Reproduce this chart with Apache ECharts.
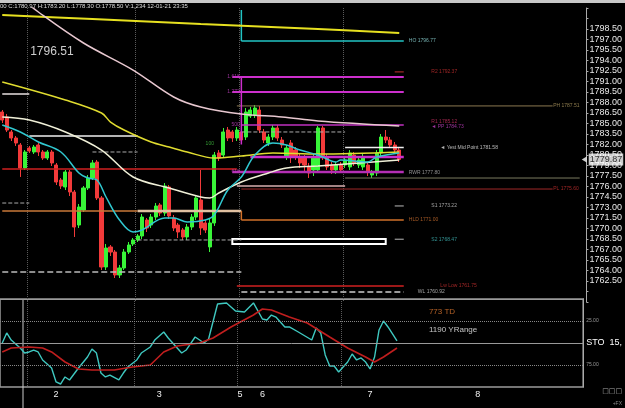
<!DOCTYPE html>
<html><head><meta charset="utf-8">
<script src="https://cdn.jsdelivr.net/npm/echarts@6/dist/echarts.min.js"></script>
<style>html,body{margin:0;padding:0;background:#000}#c{width:625px;height:408px}</style>
</head><body><div id="c"></div>
<script>
// ---------- DATA ----------
const N_CAT = 130;
const dayLabels = ['2','3','5','6','7','8'];
const dayLabelIdx = [12,35,53,58,82,106];
const dayBreaks = [6,30,53,76];

const opens = [1786.64,1785.93,1783.79,1782.93,1781.93,1778.64,1781.50,1780.93,1781.93,1780.93,
1780.07,1780.93,1779.07,1776.93,1775.93,1778.07,1775.21,1770.50,1772.64,1775.79,
1777.21,1779.50,1774.36,1764.50,1767.36,1766.64,1763.36,1764.36,1766.64,1767.79,
1768.36,1768.93,1771.21,1770.50,1771.64,1773.36,1772.21,1775.93,1771.50,1770.50,
1769.79,1768.79,1770.21,1771.64,1774.07,1770.79,1767.36,1770.79,1780.79,1780.50,
1784.07,1783.79,1782.93,1783.79,1783.07,1786.07,1786.21,1786.93,1783.79,1782.21,
1783.07,1784.36,1782.64,1780.21,1782.21,1781.21,1780.21,1780.07,1778.79,1778.36,
1778.36,1784.36,1780.21,1779.07,1778.36,1779.07,1779.07,1778.79,1780.50,1779.07,
1778.79,1779.07,1777.64,1777.93,1780.79,1783.07,1782.64,1781.93,1781.21];
const closes = [1785.50,1784.07,1782.93,1782.21,1778.64,1780.93,1781.07,1781.64,1780.93,1780.07,
1780.93,1779.36,1776.64,1776.07,1778.07,1775.21,1770.21,1773.07,1775.79,1777.21,
1779.36,1774.36,1764.50,1767.21,1766.64,1763.36,1764.36,1766.64,1767.64,1768.36,
1768.93,1771.64,1770.07,1771.64,1773.21,1772.21,1776.07,1771.79,1770.07,1769.50,
1768.79,1770.21,1771.64,1774.36,1770.07,1769.79,1770.79,1780.50,1780.07,1783.79,
1782.93,1782.93,1784.07,1782.64,1786.64,1786.93,1787.21,1784.07,1782.64,1783.07,
1784.36,1782.93,1781.93,1781.50,1780.21,1780.21,1779.36,1779.07,1777.93,1780.21,
1784.36,1780.21,1778.79,1778.36,1779.07,1778.36,1779.79,1780.79,1779.36,1779.79,
1780.21,1778.07,1778.07,1780.79,1783.07,1782.64,1781.93,1781.21,1779.87];
const lows = [1785.07,1783.79,1782.50,1781.79,1777.36,1778.36,1780.79,1780.64,1780.36,1779.79,
1779.79,1778.93,1776.21,1775.64,1775.50,1774.64,1768.79,1770.07,1772.36,1775.50,
1776.93,1774.07,1764.07,1764.07,1766.07,1762.93,1762.93,1764.07,1766.36,1767.50,
1768.07,1768.50,1769.50,1770.07,1771.21,1771.79,1771.79,1771.36,1769.64,1768.64,
1768.36,1768.36,1769.79,1771.21,1769.07,1769.36,1766.64,1770.36,1779.64,1780.07,
1782.50,1782.36,1782.50,1782.21,1782.64,1785.79,1785.79,1783.64,1782.21,1781.79,
1782.64,1782.50,1781.50,1779.79,1779.36,1779.79,1778.64,1778.07,1777.21,1777.50,
1777.93,1779.79,1778.36,1777.79,1777.79,1777.93,1778.64,1778.36,1778.93,1778.64,
1778.36,1777.50,1777.21,1777.50,1780.36,1782.21,1781.50,1780.79,1779.50];
const highs = [1786.93,1786.36,1784.07,1783.21,1782.21,1781.21,1781.79,1781.93,1782.21,1781.21,
1781.21,1781.21,1779.36,1777.21,1778.36,1778.36,1775.50,1773.50,1776.07,1777.64,
1779.79,1779.79,1774.64,1767.79,1767.64,1766.93,1764.79,1767.07,1768.07,1768.64,
1769.21,1772.07,1771.50,1772.07,1773.64,1773.64,1776.50,1776.21,1771.93,1770.79,
1770.07,1770.64,1772.07,1774.64,1778.36,1771.21,1771.50,1780.93,1781.21,1784.36,
1784.50,1784.07,1784.50,1784.21,1787.21,1787.36,1787.64,1787.50,1784.21,1783.50,
1784.79,1784.79,1783.07,1781.93,1782.64,1781.64,1780.64,1780.50,1779.36,1780.64,
1784.64,1784.64,1780.64,1779.50,1779.50,1779.50,1780.21,1781.21,1780.93,1780.21,
1780.64,1779.50,1778.36,1781.21,1783.50,1784.07,1783.07,1782.36,1781.64];

// moving averages [index, price]
const maTop = [[0,1800.50],[20,1799.93],[44,1799.21],[70,1798.50],[88,1797.93]];
const maPink = [[4,1803.0],[8,1800.93],[18,1796.50],[29,1792.64],[38,1788.79],[44,1787.36],[53,1786.36],[62,1785.93],[70,1785.36],[88,1784.64]];
const maYellow = [[0,1790.93],[14,1788.36],[22,1786.50],[24,1785.21],[27,1784.07],[33,1782.36],[37,1781.64],[41,1780.93],[47,1780.07],[53,1780.36],[60,1780.79],[70,1780.64],[88,1780.93]];
const maCream = [[0,1785.93],[6,1785.50],[14,1783.79],[22,1781.21],[29,1777.36],[37,1775.79],[44,1774.50],[46,1774.36],[48,1775.07],[53,1776.64],[59,1777.93],[63,1778.64],[70,1778.93],[88,1779.79]];
const maCyan = [[0,1784.79],[4,1783.79],[8,1782.36],[13,1780.93],[17,1777.93],[19,1777.21],[21,1776.93],[23,1774.50],[26,1771.21],[29,1769.50],[31,1769.79],[36,1771.50],[38,1771.50],[41,1770.93],[45,1771.21],[47,1771.93],[50,1775.50],[53,1777.36],[56,1780.50],[60,1782.21],[63,1781.93],[66,1781.21],[70,1780.50],[74,1779.50],[75,1779.79],[81,1779.50],[83,1780.21],[88,1780.79]];

// stochastic [index, value]
const stochK = [[0,50.0],[1,38.6],[2,46.6],[4,55.7],[5,61.4],[6,60.2],[7,58.0],[8,60.2],[9,69.3],[11,78.4],[12,94.3],[13,96.6],[14,88.6],[15,92.0],[17,78.4],[19,65.9],[20,56.8],[21,61.4],[22,84.1],[23,88.6],[24,86.4],[26,92.0],[27,84.1],[28,77.3],[30,69.3],[31,61.4],[33,54.5],[34,46.6],[36,37.5],[37,44.3],[39,55.7],[40,61.4],[41,58.0],[43,43.2],[44,46.6],[45,50.0],[46,45.5],[48,5.7],[50,4.5],[52,13.6],[54,14.8],[56,4.5],[58,22.7],[59,23.9],[60,18.2],[61,20.5],[63,31.8],[64,31.8],[66,37.5],[69,46.6],[70,33.0],[71,38.6],[72,63.6],[73,76.1],[74,76.1],[75,83.0],[77,71.6],[78,62.5],[79,69.3],[80,67.0],[81,71.6],[82,79.5],[83,65.9],[84,35.2],[85,25.0],[86,31.8],[88,47.7]];
const stochD = [[0,60.2],[2,55.7],[6,54.5],[9,55.7],[11,60.2],[14,71.6],[17,79.5],[20,80.7],[25,80.7],[29,77.3],[33,75.0],[36,60.2],[39,53.4],[44,50.0],[47,44.3],[51,31.8],[56,18.2],[58,11.4],[60,12.5],[64,20.5],[68,27.3],[73,43.2],[77,55.7],[81,65.9],[83,71.6],[85,65.9],[88,55.7]];

// horizontal levels
const levelPrice = [1796.77,1791.64,1789.50,1787.51,1784.79,1780.21,1778.07,1781.58,1777.21,1775.64,1776.07,1778.50,1772.50,1772.50,1771.21,1761.79,1760.93,1789.21,1783.21,1773.64,1780.93,1768.36,1763.79,1783.79,1792.37,1773.22,1768.47];
const levelFrom  = [53,51,51,52,53,55,51,76,76,53,52,0,0,30,53,52,53,0,6,0,20,30,0,53,87,87,87];
const levelTo    = [89,89,89,122,89,89,89,89,128,122,76,52,30,53,89,89,89,6,30,6,30,53,53,76,89,89,89];

// vertical segments
const vertIdx = [53,53,53];
const vertFrom = [1796.77,1791.64,1772.50];
const vertTo = [1801.21,1782.00,1771.21];

// level labels
const labelText = ['HO 1796.77','R2 1792.37','PH 1787.51','R1 1785.12','\u25C4 PP 1784.73','\u25C4 Yest Mid Point 1781.58','RWR 1777.80','PL 1775.60','S1 1773.22','HLD 1771.00','S2 1768.47','Lw Low 1761.75','WL 1760.92'];
const labelIdx = [90,95,122,95,95,97,90,122,95,90,95,97,92];
const labelPrice = [1796.77,1792.37,1787.51,1785.30,1784.62,1781.58,1777.95,1775.64,1773.22,1771.21,1768.47,1761.79,1760.92];

const fibText = ['1.618','1.272','500','618'];
const fibPrice = [1791.64,1789.50,1784.79,1778.07];

const boxFrom = 51, boxTo = 85, boxTop = 1768.50, boxBottom = 1767.79;
const lastPrice = 1779.87;
const bigPrice = '1796.51';
const stoInfo = ['773 TD','1190 YRange'];
const stoInfoValue = [14.5, 35.5];

// ---------- BUILD ----------
const categories = [];
for (let i = 0; i < N_CAT; i++) {
  const k = dayLabelIdx.indexOf(i);
  categories.push(k >= 0 ? dayLabels[k] : '');
}
const candles = opens.map((o, i) => [o, closes[i], lows[i], highs[i]]);

const FONT = 'Liberation Sans, Arial, sans-serif';
const magenta = '#cc2fcc';
const levelStyle = [
  {color:'#22c4c4', width:1.5},
  {color:magenta, width:2},
  {color:magenta, width:2},
  {color:'#8c7850', width:1},
  {color:'#c030c0', width:1.5},
  {color:magenta, width:2.5},
  {color:'#b52fb5', width:2.5},
  {color:'#f0f0f0', width:1.5},
  {color:'#7a7a60', width:1},
  {color:'#a02828', width:1},
  {color:'#d8b0b0', width:1.5},
  {color:'#d02020', width:1.5},
  {color:'#c87838', width:1.5},
  {color:'#e0c0a0', width:2.5},
  {color:'#d0702a', width:1.5},
  {color:'#d02020', width:1.5},
  {color:'#cccccc', width:1.5, type:'dashed'},
  {color:'#e8e0e0', width:1.5},
  {color:'#f0f0f0', width:1.5},
  {color:'#aaaaaa', width:1, type:'dashed'},
  {color:'#aaaaaa', width:1, type:'dashed'},
  {color:'#aaaaaa', width:1, type:'dashed'},
  {color:'#bbbbbb', width:1.5, type:'dashed'},
  {color:'#aaaaaa', width:1, type:'dashed'},
  {color:'#c03030', width:1},
  {color:'#bbbbbb', width:1},
  {color:'#bbbbbb', width:1}
];
const vertStyle = [{color:'#22c4c4', width:1.5},{color:magenta, width:1.5},{color:'#d0702a', width:1.5}];
const labelColor = ['#8fd8d8','#c83030','#b09a60','#c83060','#c040c0','#e0e0e0','#b0b0b0','#c83030','#c8c8c8','#d07030','#40b8b8','#c83030','#c8c8c8'];

const series = [];
series.push({
  type:'candlestick', xAxisIndex:0, yAxisIndex:0, data:candles, barWidth:3.6, z:2,
  itemStyle:{color:'#38f538', color0:'#f23a3a', borderColor:'#38f538', borderColor0:'#f23a3a', borderWidth:1}
});
levelPrice.forEach((p, i) => {
  series.push({type:'line', xAxisIndex:0, yAxisIndex:0, silent:true, symbol:'none', z:3,
    data:[[levelFrom[i], p],[levelTo[i], p]], lineStyle:levelStyle[i]});
});
vertIdx.forEach((x, i) => {
  series.push({type:'line', xAxisIndex:0, yAxisIndex:0, silent:true, symbol:'none', z:3,
    data:[[x, vertFrom[i]],[x, vertTo[i]]], lineStyle:vertStyle[i]});
});
const maDefs = [[maTop,'#e6e020',2],[maPink,'#e8c8d0',1.5],[maYellow,'#e0dc30',1.5],[maCream,'#f0f0d8',1.5],[maCyan,'#30c8d0',1.5]];
maDefs.forEach(d => {
  series.push({type:'line', xAxisIndex:0, yAxisIndex:0, silent:true, symbol:'none', smooth:0.35, z:4,
    data:d[0], lineStyle:{color:d[1], width:d[2]}});
});
// white box
series.push({type:'line', xAxisIndex:0, yAxisIndex:0, silent:true, symbol:'none', z:5,
  data:[[boxFrom, boxTop]], lineStyle:{opacity:0},
  markArea:{silent:true, itemStyle:{color:'#000', borderColor:'#ffffff', borderWidth:2},
    data:[[{coord:[boxFrom, boxTop]},{coord:[boxTo, boxBottom]}]]}});
// level labels
series.push({type:'scatter', xAxisIndex:0, yAxisIndex:0, silent:true, symbolSize:1, z:6,
  itemStyle:{color:'rgba(0,0,0,0)'},
  data: labelText.map((t, i) => ({value:[labelIdx[i], labelPrice[i]],
    label:{show:true, position:'right', distance:0, formatter:t, color:labelColor[i], fontSize:5, fontFamily:FONT}}))
});
// fib labels
series.push({type:'scatter', xAxisIndex:0, yAxisIndex:0, silent:true, symbolSize:1, z:6,
  itemStyle:{color:'rgba(0,0,0,0)'},
  data: fibText.map((t, i) => ({value:[53, fibPrice[i]],
    label:{show:true, position:'left', distance:1, formatter:t, color:'#c040c0', fontSize:5, fontFamily:FONT}}))
    .concat([{value:[46, 1782.07], label:{show:true, position:'inside', formatter:'100', color:'#40c040', fontSize:5, fontFamily:FONT}}])
});
// big price text
series.push({type:'scatter', xAxisIndex:0, yAxisIndex:0, silent:true, symbolSize:1, z:6,
  itemStyle:{color:'rgba(0,0,0,0)'},
  data:[{value:[11, 1795.21], label:{show:true, position:'inside', formatter:bigPrice, color:'#ffffff', fontSize:12, fontFamily:FONT}}]
});
// last price marker
series.push({type:'scatter', xAxisIndex:0, yAxisIndex:0, silent:true, z:7,
  symbol:'triangle', symbolRotate:90, symbolSize:[6,5], itemStyle:{color:'#ffffff'},
  data:[{value:[N_CAT-1, lastPrice], label:{show:true, position:'right', distance:2, formatter:lastPrice.toFixed(2),
    color:'#000', backgroundColor:'#ffffff', fontSize:9, fontFamily:FONT, padding:[2,1,1,1]}}]
});
// stochastic
series.push({type:'line', xAxisIndex:1, yAxisIndex:1, silent:true, symbol:'none', z:4,
  data:stochK, lineStyle:{color:'#3fc8c0', width:1.4},
  markLine:{silent:true, symbol:'none', label:{show:false},
    data:[{yAxis:25, lineStyle:{color:'#888', type:'dotted', width:1}},
          {yAxis:50, lineStyle:{color:'#999', type:'solid', width:1}},
          {yAxis:75, lineStyle:{color:'#888', type:'dotted', width:1}}]}
});
series.push({type:'line', xAxisIndex:1, yAxisIndex:1, silent:true, symbol:'none', z:4,
  data:stochD, lineStyle:{color:'#c01e1e', width:1.6}});
series.push({type:'scatter', xAxisIndex:1, yAxisIndex:1, silent:true, symbolSize:1, z:6,
  itemStyle:{color:'rgba(0,0,0,0)'},
  data: stoInfo.map((t, i) => ({value:[95, stoInfoValue[i]],
    label:{show:true, position:'right', distance:0, formatter:t, color: i===0 ? '#e07830' : '#f0f0f0', fontSize:8, fontFamily:FONT}}))
});

const splitDays = {show:true, interval:(idx) => dayBreaks.indexOf(idx) >= 0, lineStyle:{color:'#5a5a5a', type:'dotted', width:1}};

const option = {
  animation:false,
  backgroundColor:'#000',
  grid:[
    {left:0, right:38, top:8, height:294},
    {left:0, right:38, top:299, height:88, show:true, borderColor:'#9a9a9a', borderWidth:1.5}
  ],
  xAxis:[
    {type:'category', gridIndex:0, data:categories, boundaryGap:true,
      axisLine:{show:false}, axisTick:{show:false}, axisLabel:{show:false}, splitLine:splitDays},
    {type:'category', gridIndex:1, data:categories, boundaryGap:true,
      axisLine:{show:true, lineStyle:{color:'#9a9a9a'}}, axisTick:{show:false},
      axisLabel:{show:true, interval:(i, v) => v !== '', color:'#f0f0f0', fontSize:9, fontFamily:FONT, margin:3},
      splitLine:splitDays}
  ],
  yAxis:[
    {type:'value', gridIndex:0, position:'right', min:1759.5, max:1801.5, interval:1.5, scale:true,
      axisLine:{show:true, lineStyle:{color:'#aaa'}}, axisTick:{show:true, length:2, lineStyle:{color:'#aaa'}},
      splitLine:{show:false},
      axisLabel:{color:'#e8e8e8', fontSize:9, fontFamily:FONT, margin:3,
        formatter:(v) => (v >= 1762.4 && v <= 1798.6) ? v.toFixed(2) : ''}},
    {type:'value', gridIndex:1, position:'right', min:0, max:100, interval:25, inverse:true,
      axisLine:{show:true, lineStyle:{color:'#aaa'}}, axisTick:{show:false}, splitLine:{show:false},
      axisLabel:{margin:3, formatter:(v) => v === 50 ? '{b|STO  15,}' : ((v === 25 || v === 75) ? '{s|' + v.toFixed(2) + '}' : ''),
        rich:{b:{color:'#ffffff', fontSize:9, fontFamily:FONT}, s:{color:'#999', fontSize:5, fontFamily:FONT}}}}
  ],
  graphic:[
    {type:'rect', shape:{x:0, y:0, width:625, height:3}, style:{fill:'#c8c8c8'}, silent:true},
    {type:'text', left:0, top:3, silent:true, style:{text:'00 C:1780.97 H:1783.20 L:1778.30 O:1778.50 V:1,234 12-01-21 23:35', fill:'#dddddd', fontSize:6, fontFamily:FONT}},
    {type:'line', shape:{x1:23, y1:299, x2:23, y2:408}, style:{stroke:'#cccccc', lineWidth:1}, silent:true},
    {type:'text', right:3, top:388, silent:true, style:{text:'\u25A1\u25A1\u25A1', fill:'#aaaaaa', fontSize:7, fontFamily:'DejaVu Sans'}},
    {type:'text', right:3, top:401, silent:true, style:{text:'+FX', fill:'#888888', fontSize:5, fontFamily:FONT}}
  ],
  series:series
};
const chart = echarts.init(document.getElementById('c'));
chart.setOption(option);
</script>
</body></html>
